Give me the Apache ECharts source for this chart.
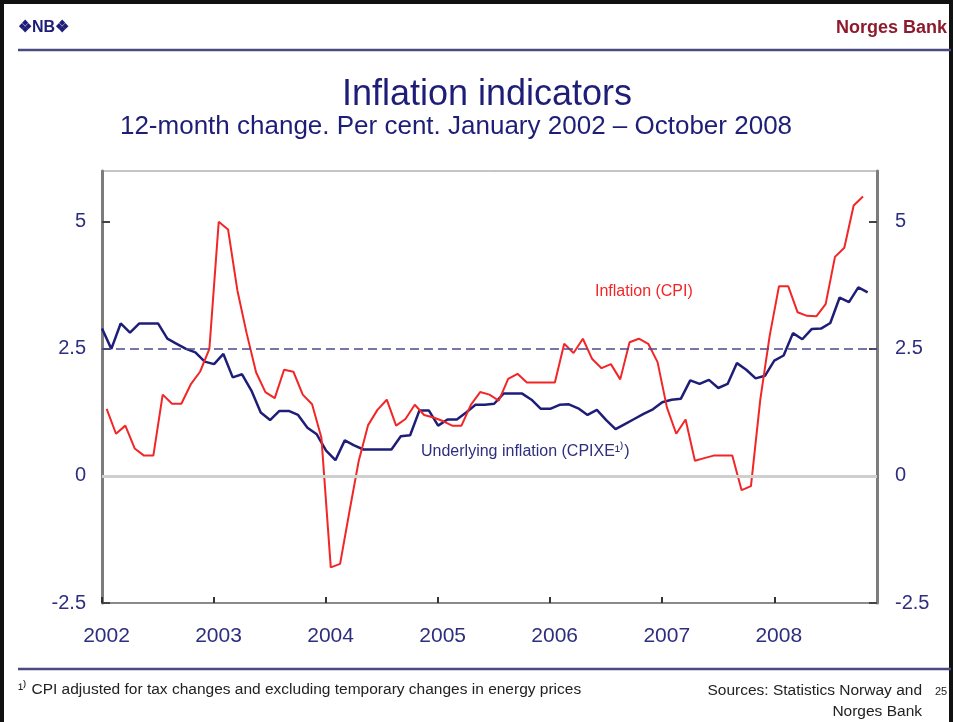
<!DOCTYPE html>
<html>
<head>
<meta charset="utf-8">
<title>Inflation indicators</title>
<script src="https://cdn.jsdelivr.net/npm/echarts@6/dist/echarts.min.js"></script>
<style>
  html, body { margin: 0; padding: 0; background: #fff; }
  #chart { width: 954px; height: 722px; }
</style>
</head>
<body>
<div id="chart"></div>
<script>
// 12-month change, per cent. Monthly from January 2002
const years = ['2002', '2003', '2004', '2005', '2006', '2007', '2008'];

// Inflation (CPI), Jan 2002 - Oct 2008
const cpi = [
  1.32, 0.83, 0.99, 0.54, 0.40, 0.40, 1.60, 1.42, 1.42, 1.80, 2.05, 2.50,
  5.00, 4.85, 3.65, 2.80, 2.04, 1.65, 1.53, 2.09, 2.05, 1.60, 1.41, 0.75,
  -1.80, -1.73, -0.70, 0.30, 1.00, 1.30, 1.50, 0.99, 1.12, 1.40, 1.20, 1.15,
  1.08, 0.99, 0.99, 1.40, 1.65, 1.60, 1.48, 1.91, 2.01, 1.84, 1.84, 1.84,
  1.84, 2.60, 2.42, 2.70, 2.30, 2.12, 2.20, 1.90, 2.63, 2.70, 2.60, 2.24,
  1.35, 0.83, 1.11, 0.30, 0.35, 0.40, 0.40, 0.40, -0.28, -0.20, 1.50, 2.75,
  3.73, 3.73, 3.22, 3.15, 3.14, 3.38, 4.31, 4.49, 5.32, 5.50
];

// Underlying inflation (CPIXE)
const cpixe = [
  2.90, 2.50, 3.00, 2.82, 3.00, 3.00, 3.00, 2.70, 2.60, 2.50, 2.43, 2.25,
  2.20, 2.40, 1.94, 2.00, 1.68, 1.25, 1.10, 1.28, 1.28, 1.20, 0.95, 0.82,
  0.50, 0.31, 0.70, 0.60, 0.52, 0.52, 0.52, 0.52, 0.78, 0.80, 1.29, 1.29,
  0.99, 1.11, 1.11, 1.25, 1.40, 1.40, 1.42, 1.62, 1.62, 1.62, 1.50, 1.32,
  1.32, 1.40, 1.41, 1.33, 1.20, 1.30, 1.10, 0.92, 1.02, 1.12, 1.22, 1.31,
  1.45, 1.50, 1.52, 1.88, 1.81, 1.89, 1.73, 1.81, 2.22, 2.09, 1.92, 1.97,
  2.27, 2.37, 2.81, 2.69, 2.89, 2.90, 3.01, 3.51, 3.42, 3.71, 3.61
];

const inflationTarget = 2.5;

const NAVY = '#1e1e78';
const LABEL = '#2e2e7e';
const RED = '#f22626';
const FONT = '"Liberation Sans", Arial, sans-serif';

const chart = echarts.init(document.getElementById('chart'));

function yAxisDef(position, margin) {
  return {
    type: 'value',
    position: position,
    min: -2.5,
    max: 6,
    interval: 2.5,
    axisLine: { show: true, onZero: false, lineStyle: { color: '#7c7c7c', width: 3 } },
    axisTick: { show: true, inside: true, length: 8, lineStyle: { color: '#444', width: 2 } },
    axisLabel: { color: LABEL, fontSize: 20, fontFamily: FONT, margin: margin, showMaxLabel: false },
    splitLine: { show: false }
  };
}

const options = {
  backgroundColor: '#fff',
  animation: false,
  grid: { left: 102, right: 77, top: 171, bottom: 119, show: true, borderColor: '#8a8a8a', borderWidth: 1 },
  xAxis: {
    type: 'value',
    min: 0,
    max: 83,
    interval: 12,
    axisLine: { show: true, onZero: false, lineStyle: { color: '#8a8a8a', width: 2 } },
    axisTick: { show: true, inside: true, length: 6, lineStyle: { color: '#333', width: 2 } },
    axisLabel: {
      color: LABEL, fontSize: 21, fontFamily: FONT, margin: 23, padding: [0, 0, 0, 9],
      showMaxLabel: false,
      formatter: v => (v % 12 === 0 ? years[v / 12] : '')
    },
    splitLine: { show: false }
  },
  yAxis: [yAxisDef('left', 16), yAxisDef('right', 18)],
  series: [
    {
      name: 'Underlying inflation (CPIXE)',
      type: 'line',
      data: cpixe.map((v, i) => [i, v]),
      symbol: 'none',
      lineStyle: { color: NAVY, width: 2.5 },
      z: 3,
      markLine: {
        silent: true,
        symbol: 'none',
        label: { show: false },
        data: [
          { yAxis: 0, lineStyle: { color: '#cfcfcf', width: 3, type: 'solid' } },
          { yAxis: inflationTarget, lineStyle: { color: '#4a4a8c', width: 1.5, type: [9, 5] } }
        ]
      }
    },
    {
      name: 'Inflation (CPI)',
      type: 'line',
      // CPI plotted mid-month
      data: cpi.map((v, i) => [i + 0.5, v]),
      symbol: 'none',
      lineStyle: { color: RED, width: 2 },
      z: 4
    }
  ],
  graphic: [
    { type: 'rect', shape: { x: 2, y: 2, width: 949, height: 740 }, style: { fill: 'none', stroke: '#111', lineWidth: 4 } },
    { type: 'text', x: 18, y: 28, style: { text: '❖NB❖', fill: NAVY, font: 'bold 16px ' + FONT, textVerticalAlign: 'middle' } },
    { type: 'text', x: 947, y: 28, style: { text: 'Norges Bank', fill: '#8e1b2d', font: 'bold 18px ' + FONT, textAlign: 'right', textVerticalAlign: 'middle' } },
    { type: 'line', shape: { x1: 18, y1: 50, x2: 951, y2: 50 }, style: { stroke: '#4a4a82', lineWidth: 2.5 } },
    { type: 'text', x: 487, y: 95, style: { text: 'Inflation indicators', fill: NAVY, font: '36px ' + FONT, textAlign: 'center', textVerticalAlign: 'middle' } },
    { type: 'text', x: 456, y: 127, style: { text: '12-month change. Per cent. January 2002 – October 2008', fill: NAVY, font: '26px ' + FONT, textAlign: 'center', textVerticalAlign: 'middle' } },
    { type: 'text', x: 595, y: 292, style: { text: 'Inflation (CPI)', fill: RED, font: '16px ' + FONT, textVerticalAlign: 'middle' } },
    { type: 'text', x: 421, y: 452, style: { text: 'Underlying inflation (CPIXE¹⁾)', fill: LABEL, font: '16px ' + FONT, textVerticalAlign: 'middle' } },
    { type: 'line', shape: { x1: 18, y1: 669, x2: 951, y2: 669 }, style: { stroke: '#4a4a82', lineWidth: 2.5 } },
    { type: 'text', x: 18, y: 690, style: { text: '¹⁾ CPI adjusted for tax changes and excluding temporary changes in energy prices', fill: '#222', font: '15.5px ' + FONT, textVerticalAlign: 'middle' } },
    { type: 'text', x: 922, y: 691, style: { text: 'Sources: Statistics Norway and', fill: '#222', font: '15.5px ' + FONT, textAlign: 'right', textVerticalAlign: 'middle' } },
    { type: 'text', x: 922, y: 712, style: { text: 'Norges Bank', fill: '#222', font: '15.5px ' + FONT, textAlign: 'right', textVerticalAlign: 'middle' } },
    { type: 'text', x: 935, y: 692, style: { text: '25', fill: '#222', font: '11px ' + FONT, textVerticalAlign: 'middle' } }
  ]
};

chart.setOption(options);
</script>
</body>
</html>
